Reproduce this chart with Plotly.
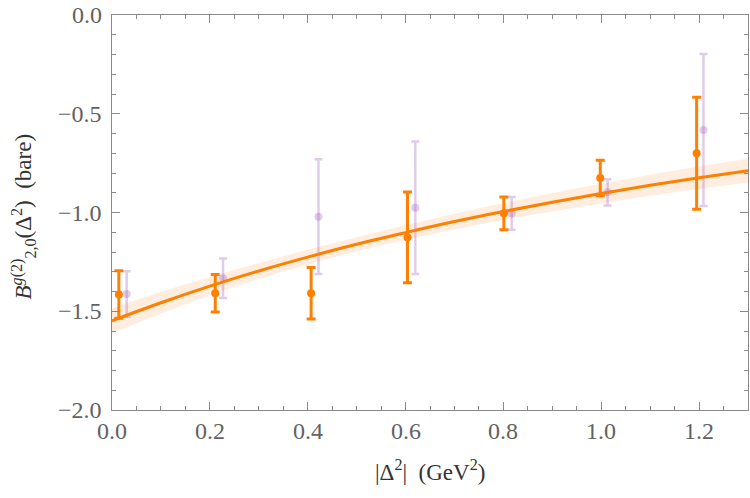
import plotly.graph_objects as go

# Orange data set
x_orange = [0.014, 0.211, 0.407, 0.604, 0.801, 0.998, 1.195]
y_orange = [-1.415, -1.409, -1.409, -1.126, -1.004, -0.825, -0.700]
e_orange = [0.120, 0.095, 0.130, 0.230, 0.083, 0.090, 0.284]

# Purple (faded) data set
x_purple = [0.030, 0.227, 0.422, 0.620, 0.817, 1.013, 1.209]
y_purple = [-1.413, -1.333, -1.021, -0.976, -1.004, -0.898, -0.582]
e_purple = [0.115, 0.100, 0.290, 0.336, 0.083, 0.066, 0.385]

# Fit curve and band
x_fit = [0.0, 0.1, 0.2, 0.3, 0.4, 0.5, 0.6, 0.7, 0.8, 0.9, 1.0, 1.1, 1.2, 1.3]
y_fit = [-1.548, -1.457, -1.373, -1.296, -1.226, -1.161, -1.102, -1.046, -0.995, -0.948, -0.904, -0.862, -0.824, -0.788]
y_fit_lo = [-1.613, -1.512, -1.419, -1.336, -1.263, -1.197, -1.139, -1.086, -1.038, -0.995, -0.954, -0.915, -0.881, -0.848]
y_fit_hi = [-1.483, -1.402, -1.327, -1.256, -1.189, -1.125, -1.065, -1.006, -0.952, -0.901, -0.854, -0.809, -0.767, -0.728]

x_ticks = [0.0, 0.2, 0.4, 0.6, 0.8, 1.0, 1.2]
x_tick_labels = ["0.0", "0.2", "0.4", "0.6", "0.8", "1.0", "1.2"]
y_ticks = [0.0, -0.5, -1.0, -1.5, -2.0]
y_tick_labels = ["0.0", "−0.5", "−1.0", "−1.5", "−2.0"]

x_title = "|Δ<sup>2</sup>|  (GeV<sup>2</sup>)"
y_title = "<i>B</i><sup><i>g</i>(2)</sup><sub>2,0</sub>(Δ<sup>2</sup>)  (bare)"

ORANGE = "#FF8000"
PURPLE = "rgba(170,105,195,0.35)"
BAND = "rgba(255,170,100,0.20)"
FONT = "Liberation Serif"
TICKFONT = dict(family=FONT, size=24, color="#626262")
TITLEFONT = dict(family=FONT, size=23, color="#333333")

fig = go.Figure()
fig.add_trace(go.Scatter(x=x_fit, y=y_fit_lo, mode="lines", line=dict(width=0, shape="spline"),
                         hoverinfo="skip", showlegend=False))
fig.add_trace(go.Scatter(x=x_fit, y=y_fit_hi, mode="lines", line=dict(width=0, shape="spline"),
                         fill="tonexty", fillcolor=BAND, hoverinfo="skip", showlegend=False))
fig.add_trace(go.Scatter(x=x_purple, y=y_purple, mode="markers",
                         marker=dict(color=PURPLE, size=8),
                         error_y=dict(type="data", array=e_purple, color=PURPLE, thickness=2.5, width=4),
                         showlegend=False))
fig.add_trace(go.Scatter(x=x_fit, y=y_fit, mode="lines", line=dict(color=ORANGE, width=3, shape="spline"),
                         showlegend=False))
fig.add_trace(go.Scatter(x=x_orange, y=y_orange, mode="markers",
                         marker=dict(color=ORANGE, size=8),
                         error_y=dict(type="data", array=e_orange, color=ORANGE, thickness=3, width=4.5),
                         showlegend=False))

axis_common = dict(showgrid=False, zeroline=False, showline=True, linecolor="#8a8a8a", linewidth=1,
                   mirror="ticks", ticks="inside", ticklen=8, tickcolor="#8a8a8a", tickwidth=1,
                   showticklabels=False)

fig.update_xaxes(range=[0, 1.3], tickmode="array", tickvals=x_ticks,
                 minor=dict(ticks="inside", ticklen=4, dtick=0.05, tickcolor="#8a8a8a"),
                 **axis_common)
fig.update_yaxes(range=[-2.0, 0.0], tickmode="array", tickvals=y_ticks,
                 minor=dict(ticks="inside", ticklen=4, dtick=0.1, tickcolor="#8a8a8a"),
                 **axis_common)

annotations = []
for v, t in zip(x_ticks, x_tick_labels):
    annotations.append(dict(x=v, xref="x", y=0, yref="paper", text=t, showarrow=False,
                            xanchor="center", yanchor="top", yshift=-6, font=TICKFONT))
for v, t in zip(y_ticks, y_tick_labels):
    annotations.append(dict(x=0, xref="paper", y=v, yref="y", text=t, showarrow=False,
                            xanchor="right", yanchor="middle", xshift=-8, font=TICKFONT))
annotations.append(dict(x=0.5, xref="paper", y=0, yref="paper", text=x_title, showarrow=False,
                        xanchor="center", yanchor="middle", yshift=-60, font=TITLEFONT))
annotations.append(dict(x=0, xref="paper", y=0.49, yref="paper", text=y_title, showarrow=False,
                        textangle=-90, xanchor="center", yanchor="middle", xshift=-89, font=TITLEFONT))

fig.update_layout(width=750, height=498, margin=dict(l=112, r=2, t=15, b=88),
                  plot_bgcolor="white", paper_bgcolor="white",
                  font=dict(family=FONT, size=23, color="#5a5a5a"),
                  annotations=annotations)
fig.write_html("out.html")
